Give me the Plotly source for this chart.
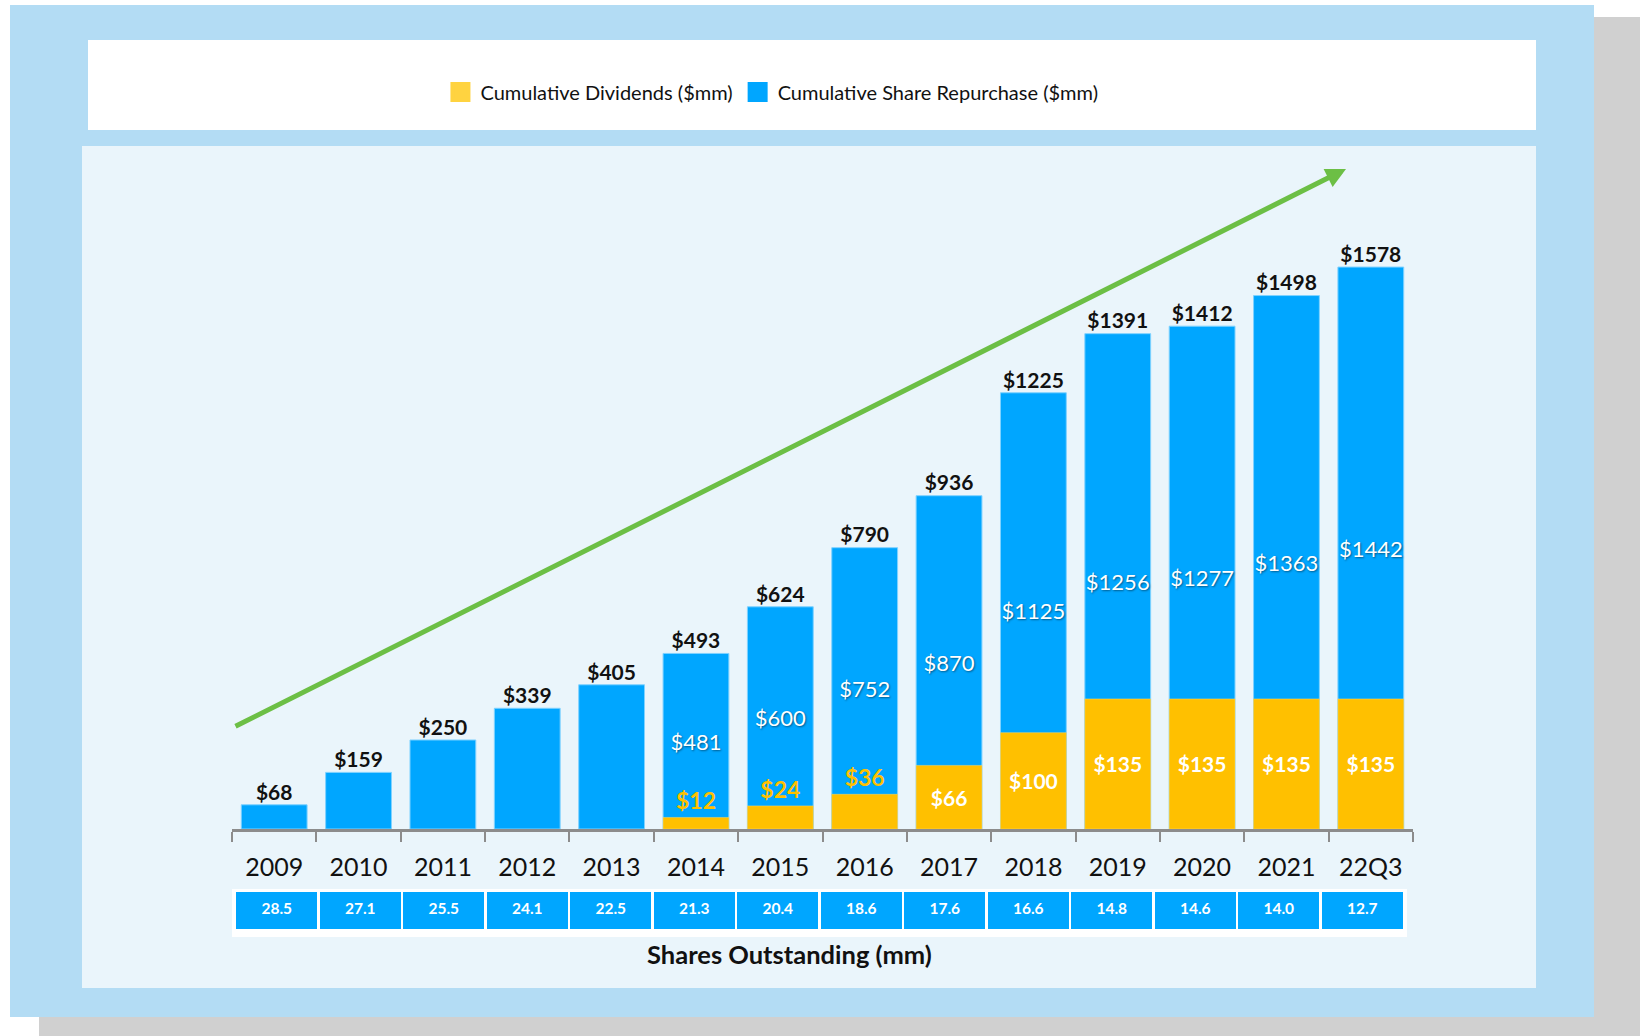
import plotly.graph_objects as go

# ---------------- data ----------------
categories = ["2009", "2010", "2011", "2012", "2013", "2014", "2015", "2016",
              "2017", "2018", "2019", "2020", "2021", "22Q3"]
totals = [68, 159, 250, 339, 405, 493, 624, 790, 936, 1225, 1391, 1412, 1498, 1578]
dividends = [None, None, None, None, None, 12, 24, 36, 66, 100, 135, 135, 135, 135]
repurchases = [None, None, None, None, None, 481, 600, 752, 870, 1125, 1256, 1277, 1363, 1442]
shares_outstanding = [28.5, 27.1, 25.5, 24.1, 22.5, 21.3, 20.4, 18.6, 17.6, 16.6, 14.8, 14.6, 14.0, 12.7]

W, H = 1640, 1036
FONT = "Lato"
BLUE = "#00A6FF"
YELLOW = "#FFC000"
GOLD_TXT = "#FFC000"
LEG_YELLOW = "#FFD340"


def px(x):
    return x / W


def py(y):
    return 1 - y / H


fig = go.Figure()

# Blue bars: cumulative total (share repurchase label inside)
fig.add_trace(go.Bar(
    x=categories, y=totals, name="Cumulative Share Repurchase ($mm)",
    marker=dict(color=BLUE, line=dict(color="#7FD2FF", width=1)),
    text=[f"${v}" if v is not None else "" for v in repurchases],
    textposition="inside", insidetextanchor="middle", constraintext="none",
    textfont=dict(family=FONT, size=22, color="white",
                  shadow="1px 1px 2px rgba(0,0,0,0.45)"),
    textangle=0, showlegend=False, hoverinfo="skip",
    xaxis="x", yaxis="y",
))

# Yellow bars: cumulative dividends (secondary scale)
div_pos = ["outside" if (d is not None and d < 50) else "inside" for d in dividends]
div_col = [GOLD_TXT if (d is not None and d < 50) else "white" for d in dividends]
div_size = [23 if (d is not None and d < 50) else 21 for d in dividends]
fig.add_trace(go.Bar(
    x=categories, y=dividends, name="Cumulative Dividends ($mm)",
    marker=dict(color=YELLOW, line=dict(color="#FFD866", width=0.5)),
    text=[f"<b>${v}</b>" if v is not None else "" for v in dividends],
    textposition=div_pos, insidetextanchor="middle", constraintext="none",
    textfont=dict(family=FONT, size=div_size, color=div_col),
    textangle=0, cliponaxis=False, showlegend=False, hoverinfo="skip",
    xaxis="x", yaxis="y2",
))

# Total labels above bars
fig.add_trace(go.Scatter(
    x=categories, y=totals, mode="text",
    text=[f"<b>${v}</b>" for v in totals], textposition="top center",
    textfont=dict(family=FONT, size=21, color="#111111"),
    showlegend=False, cliponaxis=False, hoverinfo="skip",
    xaxis="x", yaxis="y",
))

# Legend entries (large square swatches)
fig.add_trace(go.Scatter(
    x=[None], y=[None], mode="markers", name="Cumulative Dividends ($mm)",
    marker=dict(symbol="square", size=22, color=LEG_YELLOW,
                line=dict(color=LEG_YELLOW, width=4)), legendrank=1,
))
fig.add_trace(go.Scatter(
    x=[None], y=[None], mode="markers", name="Cumulative Share Repurchase ($mm)",
    marker=dict(symbol="square", size=22, color=BLUE,
                line=dict(color=BLUE, width=4)), legendrank=2,
))

# Shares outstanding row
fig.add_trace(go.Table(
    domain=dict(x=[px(235), px(1404)], y=[0, py(891)]),
    columnwidth=[1] * len(categories),
    header=dict(
        values=[f"<b>{v:.1f}</b>" for v in shares_outstanding],
        fill_color=BLUE, line=dict(color="white", width=2.5),
        font=dict(family=FONT, size=15.5, color="white"),
        align="center", height=39,
    ),
    cells=dict(values=[]),
))

y_domain = [py(829), py(146)]

fig.update_layout(
    width=W, height=H, autosize=False,
    margin=dict(l=0, r=0, t=0, b=0),
    paper_bgcolor="white", plot_bgcolor="rgba(0,0,0,0)",
    barmode="overlay", bargap=0.22,
    font=dict(family=FONT, color="#111111"),
    xaxis=dict(
        domain=[px(232), px(1413)], type="category",
        range=[-0.5, len(categories) - 0.5],
        showline=True, linecolor="#8C8C8C", linewidth=2.5,
        ticks="outside", tickson="boundaries", ticklen=10, tickwidth=2,
        tickcolor="#8C8C8C", showgrid=False, zeroline=False,
        tickfont=dict(family=FONT, size=25, color="#111111"),
        ticklabelstandoff=14, fixedrange=True,
    ),
    yaxis=dict(domain=y_domain, range=[0, 1918], visible=False, fixedrange=True),
    yaxis2=dict(domain=y_domain, range=[0, 709], overlaying="y",
                visible=False, fixedrange=True),
    legend=dict(
        orientation="h", x=0.4707, y=py(92), xanchor="center", yanchor="middle",
        font=dict(family=FONT, size=20, color="#111111"),
        bgcolor="rgba(0,0,0,0)", itemwidth=30, traceorder="normal",
        itemsizing="trace",
    ),
    showlegend=True,
)

shapes = [
    # drop shadow
    dict(type="rect", xref="paper", yref="paper", x0=px(39), x1=1, y0=0, y1=py(17),
         fillcolor="#D0D0D0", line=dict(width=0), layer="below"),
    # outer blue frame
    dict(type="rect", xref="paper", yref="paper", x0=px(10), x1=px(1594), y0=py(1017), y1=py(5),
         fillcolor="#B3DCF4", line=dict(width=0), layer="below"),
    # legend box
    dict(type="rect", xref="paper", yref="paper", x0=px(88), x1=px(1536), y0=py(130), y1=py(40),
         fillcolor="white", line=dict(width=0), layer="below"),
    # plot panel
    dict(type="rect", xref="paper", yref="paper", x0=px(82), x1=px(1536), y0=py(988), y1=py(146),
         fillcolor="#EAF5FB", line=dict(width=0), layer="below"),
    # white frame around shares row
    dict(type="rect", xref="paper", yref="paper", x0=px(232), x1=px(1407), y0=py(937), y1=py(889),
         fillcolor="white", line=dict(width=0), layer="below"),
]
fig.update_layout(shapes=shapes)

fig.add_annotation(
    text="<b>Shares Outstanding (mm)</b>", xref="paper", yref="paper",
    x=px(789), y=py(954), xanchor="center", yanchor="middle", showarrow=False,
    font=dict(family=FONT, size=25.5, color="#111111"),
)

# Growth arrow
fig.add_annotation(
    xref="paper", yref="paper", x=px(1346), y=py(169), text="",
    showarrow=True, ax=234 - 1346, ay=727 - 169, axref="pixel", ayref="pixel",
    arrowhead=2, arrowsize=0.8, arrowwidth=5, arrowcolor="#6CBF45",
)

fig.write_html("out.html", config={"displayModeBar": False},
               post_script="document.body.style.margin='0px';")
